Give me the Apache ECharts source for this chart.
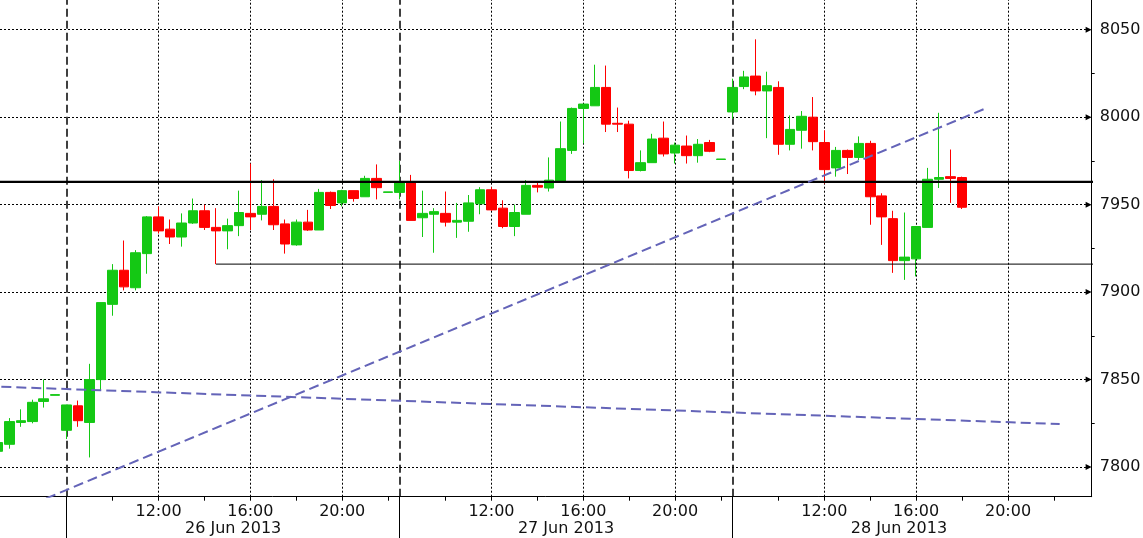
<!DOCTYPE html>
<html><head><meta charset="utf-8">
<script src="https://cdn.jsdelivr.net/npm/echarts@6/dist/echarts.min.js"></script>
<style>html,body{margin:0;padding:0;background:#fff}#c{width:1143px;height:538px}</style>
</head><body><div id="c"></div>
<script>
// ---- data (30-minute candles) ----
const times = [
 '2013-06-25 19:30','2013-06-25 20:00','2013-06-25 20:30','2013-06-25 21:00','2013-06-25 21:30','2013-06-25 22:00',
 '2013-06-26 08:00','2013-06-26 08:30','2013-06-26 09:00','2013-06-26 09:30','2013-06-26 10:00','2013-06-26 10:30','2013-06-26 11:00','2013-06-26 11:30','2013-06-26 12:00','2013-06-26 12:30',
 '2013-06-26 13:00','2013-06-26 13:30','2013-06-26 14:00','2013-06-26 14:30','2013-06-26 15:00','2013-06-26 15:30','2013-06-26 16:00','2013-06-26 16:30','2013-06-26 17:00','2013-06-26 17:30',
 '2013-06-26 18:00','2013-06-26 18:30','2013-06-26 19:00','2013-06-26 19:30','2013-06-26 20:00','2013-06-26 20:30','2013-06-26 21:00','2013-06-26 21:30','2013-06-26 22:00',
 '2013-06-27 08:00','2013-06-27 08:30','2013-06-27 09:00','2013-06-27 09:30','2013-06-27 10:00','2013-06-27 10:30','2013-06-27 11:00','2013-06-27 11:30','2013-06-27 12:00','2013-06-27 12:30',
 '2013-06-27 13:00','2013-06-27 13:30','2013-06-27 14:00','2013-06-27 14:30','2013-06-27 15:00','2013-06-27 15:30','2013-06-27 16:00','2013-06-27 16:30','2013-06-27 17:00','2013-06-27 17:30',
 '2013-06-27 18:00','2013-06-27 18:30','2013-06-27 19:00','2013-06-27 19:30','2013-06-27 20:00','2013-06-27 20:30','2013-06-27 21:00','2013-06-27 21:30','2013-06-27 22:00',
 '2013-06-28 08:00','2013-06-28 08:30','2013-06-28 09:00','2013-06-28 09:30','2013-06-28 10:00','2013-06-28 10:30','2013-06-28 11:00','2013-06-28 11:30','2013-06-28 12:00','2013-06-28 12:30',
 '2013-06-28 13:00','2013-06-28 13:30','2013-06-28 14:00','2013-06-28 14:30','2013-06-28 15:00','2013-06-28 15:30','2013-06-28 16:00','2013-06-28 16:30','2013-06-28 17:00','2013-06-28 17:30',
 '2013-06-28 18:00'
];
const open = [
 7809,7813,7825.5,7826,7837.5,7841,
 7821,7835,7825.5,7850,7893,7912.5,7902.5,7922,7943,7936, 7931.5,7939.5,7946.5,7937,7935,7938,7945,7944.5,7949,7939, 7927,7940,7935.5,7957,7951,7958,7954.5,7965,7957,
 7957,7962.5,7942.5,7944.5,7945,7940,7940.5,7950.5,7958.5,7948, 7937.5,7944.5,7961,7959.5,7963.5,7981,8005,8006.5,8017,7996.5, 7996,7969.5,7974,7988,7979.5,7983.5,7978,7985.5,7975.8,
 8003,8017.5,8023.5,8015,8017,7984.5,7992.5,8000,7985.5,7971, 7981,7977,7985,7955,7942,7918,7919,7937,7964.5,7966, 7965.5
];
const close = [
 7814,7826,7826.5,7837,7839,7841.4,
 7835.5,7826.5,7850,7894,7912.5,7903,7922.5,7943,7935,7931.5, 7939.5,7946.5,7937,7935,7938,7945.5,7943,7949,7938.5,7927.5, 7940,7935.5,7957,7949.5,7958,7953.5,7965,7959.7,7957.3,
 7963,7941,7945,7946,7940,7941,7951,7958.5,7947,7937.5, 7945.5,7961,7960,7964,7982,8005,8007.5,8017,7996,7996, 7969.5,7974,7987.5,7979,7984,7978,7984.5,7980.5,7976.1,
 8017,8023,8015,8018,7984.5,7993,8000.5,7986,7970,7981, 7977,7985,7954.5,7943,7918,7920,7937.5,7964.5,7965.5,7965, 7948.5
];
const low = [
 7808,7810.5,7823,7825,7834,7841,
 7816,7823,7805.5,7844,7886.5,7901,7901,7910.5,7933.5,7927.5, 7926,7939,7935.5,7916,7924.5,7932,7935.5,7941,7935.5,7922, 7926.5,7935,7935.5,7947.5,7949,7951.7,7954.5,7953,7957,
 7953,7941,7931.5,7922.5,7937.5,7931,7934.5,7944.5,7946.5,7936.5, 7932,7944.5,7957,7957.5,7963.5,7979,7985,8006.5,7991.5,7991.5, 7965,7969,7974,7977.5,7973.5,7973.5,7974,7980,7975.8,
 7999,8016,8012.5,7988,7978.5,7981,7982,7981,7962,7966, 7967.5,7975.5,7938.5,7927,7911,7907,7909,7937,7959.5,7951, 7947.5
];
const high = [
 7815,7828,7833,7838.5,7850,7841.4,
 7835.5,7838,7859,7894,7916,7929.5,7924,7943.5,7949,7941.5, 7945,7953.5,7950,7948,7942,7958,7973.5,7964,7964.5,7941.5, 7941.5,7947,7959,7957.5,7958.5,7958,7966.5,7973,7957.3,
 7975,7967,7958,7948,7957.5,7951,7955.5,7960,7960,7952.5, 7950,7964,7963,7977,7997.5,8005.5,8007.5,8030,8029.5,8005.5, 7998,7981,7990.5,7997.5,7985.5,7989.5,7987.5,7987,7976.1,
 8022,8026.5,8044.5,8026,8020.5,8001,8003.5,8011.5,7992.5,7983, 7981.5,7989,7986.5,7956.5,7946.5,7945.5,7937.5,7971,8002.5,7981.5, 7966
];
const dayDates = ['2013-06-26','2013-06-27','2013-06-28'];
const dayLabels = ['26 Jun 2013','27 Jun 2013','28 Jun 2013'];
const timeTickLabels = ['12:00','16:00','20:00'];
const minorTickTimes = ['10:00','14:00','18:00','22:00'];
const priceLabels = [7800,7850,7900,7950,8000,8050];
const priceMinorTicks = [7825,7875,7925,7975,8025];
const supportLevel = 7963;
const lowLineStart = '2013-06-26 14:30';
const lowLineLevel = 7916;
const trendUp = [['2013-06-25 21:00',7778.8],['2013-06-28 19:00',8004.9]];
const trendFlat = [['2013-06-25 19:00',7846.2],['2013-06-28 22:15',7824.6]];

// ---- helpers: session slot index (08:00-22:00, 29 half-hour slots/day) ----
function slotOf(s){
  const d = +s.slice(8,10), h = +s.slice(11,13), m = +s.slice(14,16);
  return (d-26)*29 + (h-8)*2 + m/30;
}
const xMin = -5.81, xMax = 89.29, yMin = 7783.05, yMax = 8066.98;

const candles = times.map((t,i)=>[slotOf(t), open[i], close[i], low[i], high[i]]);

const labelMap = {};
const tickVals = [];
const labelVals = [];
dayDates.forEach(d=>{
  timeTickLabels.forEach(t=>{ const v = slotOf(d+' '+t); labelMap[Math.round(v*100)] = t; labelVals.push(v); tickVals.push(v); });
  minorTickTimes.forEach(t=>{ tickVals.push(slotOf(d+' '+t)); });
});
const sepVals = dayDates.map(d=>slotOf(d+' 08:00'));
const dayCenters = dayDates.map(d=>(slotOf(d+' 08:00')+slotOf(d+' 22:00')+1)/2);

const gridLines = [];
sepVals.forEach(v=>gridLines.push({xAxis:v, lineStyle:{type:[8,4], width:1.5, color:'#000'}}));
labelVals.forEach(v=>gridLines.push({xAxis:v, lineStyle:{type:[2,2], width:1, color:'#000'}}));
priceLabels.forEach(p=>gridLines.push([
  {coord:[xMin,p], symbol:'none', lineStyle:{type:[2,2], width:1, color:'#000'}},
  {coord:[xMax-0.27,p], symbol:'triangle', symbolSize:[6,6]}
]));

const textStyle = {fontFamily:'DejaVu Sans', fontSize:16, color:'#111'};
const blue = '#6464b8';

const chart = echarts.init(document.getElementById('c'), null, {renderer:'canvas'});
chart.setOption({
  animation:false,
  backgroundColor:'#fff',
  grid:{left:0, right:51.3, top:0, bottom:41.3, outerBoundsMode:'none'},
  xAxis:[{
    type:'value', min:xMin, max:xMax, position:'bottom',
    axisLine:{show:true, onZero:false, lineStyle:{color:'#000', width:1}},
    splitLine:{show:false},
    axisTick:{show:true, customValues:tickVals, length:4, lineStyle:{color:'#000'}},
    axisLabel:{customValues:labelVals, margin:7, ...textStyle,
      formatter:v=>labelMap[Math.round(v*100)] || ''}
  },{
    type:'value', min:xMin, max:xMax, position:'bottom',
    axisLine:{show:false, onZero:false},
    splitLine:{show:false},
    axisTick:{show:true, customValues:sepVals, length:42, lineStyle:{color:'#000'}},
    axisLabel:{customValues:dayCenters, margin:24, ...textStyle,
      formatter:v=>{ const i = dayCenters.findIndex(c=>Math.abs(c-v)<0.01); return i>=0?dayLabels[i]:''; }}
  }],
  yAxis:{
    type:'value', min:yMin, max:yMax, position:'right',
    axisLine:{show:true, onZero:false, lineStyle:{color:'#000', width:1}},
    splitLine:{show:false},
    axisTick:{show:true, customValues:priceMinorTicks, length:3, lineStyle:{color:'#000'}},
    axisLabel:{customValues:priceLabels, margin:8, ...textStyle, formatter:v=>String(Math.round(v))}
  },
  series:[
    {type:'line', data:[], silent:true,
     markLine:{silent:true, z:1, symbol:['none','none'], label:{show:false}, emphasis:{disabled:true}, animation:false, data:gridLines}},
    {type:'candlestick', z:2, data:candles, encode:{x:0, y:[1,2,3,4]}, barWidth:10,
     itemStyle:{color:'#14c814', color0:'#ff0000', borderColor:'#14c814', borderColor0:'#ff0000', borderWidth:1}},
    {type:'line', z:3, silent:true, symbol:'none', data:[[xMin-1,supportLevel],[xMax+1,supportLevel]], lineStyle:{color:'#000', width:2.2}},
    {type:'line', z:3, silent:true, symbol:'none', data:[[slotOf(lowLineStart),lowLineLevel],[xMax+1,lowLineLevel]], lineStyle:{color:'#000', width:1}},
    {type:'line', z:4, silent:true, symbol:'none', data:trendUp.map(p=>[slotOf(p[0]),p[1]]), lineStyle:{color:blue, width:2, type:[10,5]}},
    {type:'line', z:4, silent:true, symbol:'none', data:trendFlat.map(p=>[slotOf(p[0]),p[1]]), lineStyle:{color:blue, width:2, type:[10,5]}}
  ]
});
</script></body></html>
